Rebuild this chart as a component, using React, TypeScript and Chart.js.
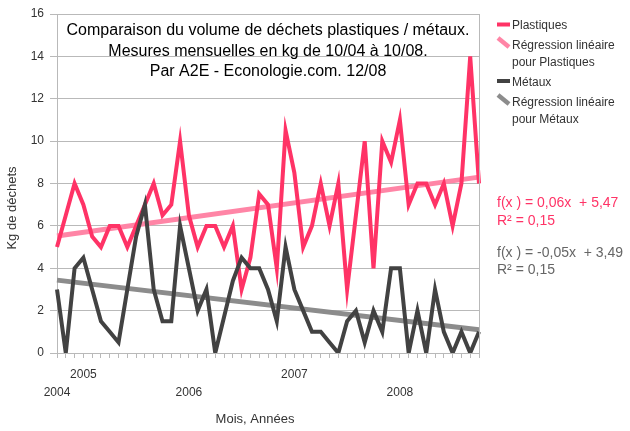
import React, { useEffect, useRef } from 'react';
import { Chart, registerables } from 'chart.js';

Chart.register(...registerables);

// Categories: monthly measures from 10/04 to 10/08
const months: string[] = [
  '10/04', '11/04', '12/04',
  '01/05', '02/05', '03/05', '04/05', '05/05', '06/05', '07/05', '08/05', '09/05', '10/05', '11/05', '12/05',
  '01/06', '02/06', '03/06', '04/06', '05/06', '06/06', '07/06', '08/06', '09/06', '10/06', '11/06', '12/06',
  '01/07', '02/07', '03/07', '04/07', '05/07', '06/07', '07/07', '08/07', '09/07', '10/07', '11/07', '12/07',
  '01/08', '02/08', '03/08', '04/08', '05/08', '06/08', '07/08', '08/08', '09/08', '10/08',
];

const plastiques: number[] = [
  5, 6.5, 8, 7, 5.5, 5, 6, 6, 5, 6, 7, 8, 6.5, 7, 10, 6.5, 5, 6, 6, 5,
  6, 3, 4.5, 7.5, 7, 4, 10.5, 8.5, 5, 6, 8, 6, 8, 3, 6.5, 10, 4, 10, 9, 11,
  7, 8, 8, 7, 8, 6, 8, 14, 8,
];

const metaux: number[] = [
  3, 0, 4, 4.5, 3, 1.5, 1, 0.5, 3, 5.5, 7, 3, 1.5, 1.5, 6, 4, 2, 3, 0, 1.7,
  3.4, 4.5, 4, 4, 3, 1.5, 5, 3, 2, 1, 1, 0.5, 0, 1.5, 2, 0.5, 2, 1, 4, 4,
  0, 2, 0, 3, 1, 0, 1, 0, 1,
];

// Regression line end values (first and last month)
const plastiquesTrendEnds: number[] = [5.52, 8.3];
const metauxTrendEnds: number[] = [3.44, 1.1];

const yTicks = { min: 0, max: 16, step: 2 };

const titleLines: string[] = [
  'Comparaison du volume de déchets plastiques / métaux.',
  'Mesures mensuelles en kg de 10/04 à 10/08.',
  'Par A2E - Econologie.com. 12/08',
];

const legendLabels = {
  plastiques: 'Plastiques',
  regPlastiques: ['Régression linéaire', 'pour Plastiques'],
  metaux: 'Métaux',
  regMetaux: ['Régression linéaire', 'pour Métaux'],
};

const equations = {
  plastiques: ['f(x ) = 0,06x  + 5,47', 'R² = 0,15'],
  metaux: ['f(x ) = -0,05x  + 3,49', 'R² = 0,15'],
};

const FONT = '"Liberation Sans", Arial, sans-serif';
const PINK = '#ff3366';
const PINK_TREND = '#ff85a6';
const DARK = '#424242';
const GRAY_TREND = '#8c8c8c';
const GRID = '#b9b9b9';
const TEXT = '#333333';

const overlayPlugin = {
  id: 'overlayText',
  afterDraw(chart: any) {
    const { ctx, chartArea } = chart;
    ctx.save();

    // right frame line of the plot
    ctx.strokeStyle = GRID;
    ctx.lineWidth = 1;
    ctx.beginPath();
    ctx.moveTo(Math.round(chartArea.right) + 0.5, chartArea.top);
    ctx.lineTo(Math.round(chartArea.right) + 0.5, chartArea.bottom);
    ctx.stroke();

    // title inside plot
    ctx.fillStyle = '#000';
    ctx.font = `16px ${FONT}`;
    ctx.textAlign = 'center';
    ctx.textBaseline = 'alphabetic';
    const cx = (chartArea.left + chartArea.right) / 2;
    titleLines.forEach((t, i) => ctx.fillText(t, cx, chartArea.top + 21 + i * 20.5));

    // legend
    const lx = 497;
    ctx.textAlign = 'left';
    ctx.font = `12px ${FONT}`;
    ctx.fillStyle = PINK;
    ctx.fillRect(lx, 22.5, 13, 4);
    ctx.fillStyle = DARK;
    ctx.fillRect(lx, 79, 13, 4);
    ctx.lineWidth = 4.5;
    ctx.lineCap = 'butt';
    ctx.strokeStyle = PINK_TREND;
    ctx.beginPath();
    ctx.moveTo(lx + 1, 38);
    ctx.lineTo(lx + 12, 47);
    ctx.stroke();
    ctx.strokeStyle = GRAY_TREND;
    ctx.beginPath();
    ctx.moveTo(lx + 1, 95);
    ctx.lineTo(lx + 12, 104);
    ctx.stroke();

    ctx.fillStyle = TEXT;
    ctx.fillText(legendLabels.plastiques, lx + 15, 29);
    ctx.fillText(legendLabels.regPlastiques[0], lx + 15, 48.5);
    ctx.fillText(legendLabels.regPlastiques[1], lx + 15, 66);
    ctx.fillText(legendLabels.metaux, lx + 15, 86);
    ctx.fillText(legendLabels.regMetaux[0], lx + 15, 106);
    ctx.fillText(legendLabels.regMetaux[1], lx + 15, 123);

    // equations
    ctx.font = `14px ${FONT}`;
    ctx.fillStyle = PINK;
    ctx.fillText(equations.plastiques[0], lx, 207);
    ctx.fillText(equations.plastiques[1], lx, 225);
    ctx.fillStyle = '#666666';
    ctx.fillText(equations.metaux[0], lx, 256.5);
    ctx.fillText(equations.metaux[1], lx, 274);

    // axis titles
    ctx.fillStyle = TEXT;
    ctx.font = `13px ${FONT}`;
    ctx.textAlign = 'center';
    ctx.fillText('Mois, Années', 255, 423);
    ctx.save();
    ctx.translate(16, 208);
    ctx.rotate(-Math.PI / 2);
    ctx.fillText('Kg de déchets', 0, 0);
    ctx.restore();

    ctx.restore();
  },
};

export default function App() {
  const canvasRef = useRef<HTMLCanvasElement | null>(null);

  useEffect(() => {
    const canvas = canvasRef.current;
    if (!canvas) return;
    const first = months[0];
    const last = months[months.length - 1];
    const chart = new Chart(canvas, {
      type: 'line',
      data: {
        labels: months,
        datasets: [
          {
            label: 'Métaux',
            data: metaux,
            borderColor: DARK,
            borderWidth: 4,
            pointRadius: 0,
            tension: 0,
            fill: false,
            order: 1,
          },
          {
            label: 'Plastiques',
            data: plastiques,
            borderColor: PINK,
            borderWidth: 4,
            pointRadius: 0,
            tension: 0,
            fill: false,
            order: 2,
          },
          {
            label: 'Régression linéaire pour Métaux',
            data: [
              { x: first, y: metauxTrendEnds[0] },
              { x: last, y: metauxTrendEnds[1] },
            ] as any,
            borderColor: GRAY_TREND,
            borderWidth: 5,
            pointRadius: 0,
            fill: false,
            order: 3,
          },
          {
            label: 'Régression linéaire pour Plastiques',
            data: [
              { x: first, y: plastiquesTrendEnds[0] },
              { x: last, y: plastiquesTrendEnds[1] },
            ] as any,
            borderColor: PINK_TREND,
            borderWidth: 5,
            pointRadius: 0,
            fill: false,
            order: 4,
          },
        ],
      },
      options: {
        responsive: false,
        animation: false,
        events: [],
        layout: { padding: { top: 14, right: 151, bottom: 0, left: 0 } },
        plugins: {
          legend: { display: false },
          title: { display: false },
          tooltip: { enabled: false },
        },
        scales: {
          x: {
            type: 'category',
            offset: false,
            grid: {
              display: true,
              drawOnChartArea: false,
              drawTicks: true,
              tickLength: 5,
              color: GRID,
            },
            border: { display: true, color: GRID },
            ticks: {
              autoSkip: false,
              maxRotation: 0,
              minRotation: 0,
              padding: 8,
              color: TEXT,
              font: { family: FONT, size: 12, lineHeight: 1.5 },
              callback: (_v: any, index: number) => {
                const [mm, yy] = months[index].split('/');
                if (index === 0 || mm === '01') {
                  const year = '20' + yy;
                  return Number(year) % 2 === 0 ? ['', year] : [year, ''];
                }
                return '';
              },
            },
            afterFit: (s: any) => {
              s.height = 78;
            },
          },
          y: {
            min: yTicks.min,
            max: yTicks.max,
            grid: { color: GRID, tickLength: 7, drawTicks: true },
            border: { display: true, color: GRID },
            ticks: {
              stepSize: yTicks.step,
              padding: 6,
              color: TEXT,
              font: { family: FONT, size: 12 },
            },
            afterFit: (s: any) => {
              s.width = 57;
            },
          },
        },
      },
      plugins: [overlayPlugin],
    });
    return () => chart.destroy();
  }, []);

  return (
    <div style={{ position: 'fixed', left: 0, top: 0, width: 630, height: 431, background: '#fff' }}>
      <canvas ref={canvasRef} width={630} height={431} style={{ width: 630, height: 431 }} />
    </div>
  );
}
